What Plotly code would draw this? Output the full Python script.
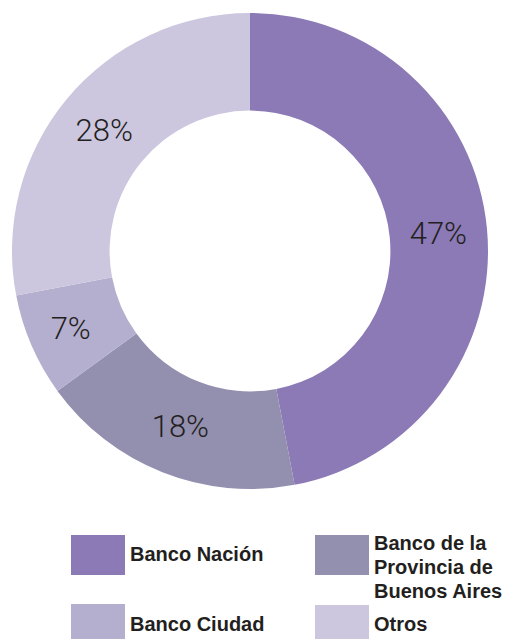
import plotly.graph_objects as go

# body margin is removed via post_script so the figure fills the page exactly
W, H = 505, 639

categories = ["Banco Nación", "Banco de la Provincia de Buenos Aires", "Banco Ciudad", "Otros"]
values = [47, 18, 7, 28]
colors = ["#8B7AB6", "#938FAF", "#B5AFCF", "#CCC6DE"]
legend_lines = [["Banco Nación"], ["Banco de la", "Provincia de", "Buenos Aires"], ["Banco Ciudad"], ["Otros"]]


def px_x(x):
    return x / W


def px_y(y):
    return 1 - y / H


fig = go.Figure(go.Pie(
    labels=categories,
    values=values,
    marker=dict(colors=colors, line=dict(width=0)),
    hole=0.59,
    sort=False,
    direction="clockwise",
    rotation=0,
    texttemplate="%{value}%",
    textposition="inside",
    insidetextorientation="horizontal",
    textfont=dict(family="Roboto", size=31, color="#231F20", weight=300),
    showlegend=False,
    domain=dict(x=[px_x(12), px_x(488)], y=[px_y(490), px_y(12)]),
))

# legend boxes
legend_pos = [(71, 535, 575), (315, 535, 575), (71, 604, 644), (315, 605, 645)]
text_centers = [[554], [543, 567, 591], [624], [624]]
for i, (x0, y0, y1) in enumerate(legend_pos):
    fig.add_shape(type="rect", xref="paper", yref="paper",
                  x0=px_x(x0), x1=px_x(x0 + 54), y0=px_y(y1), y1=px_y(y0),
                  fillcolor=colors[i], line=dict(width=0))
    for line, cy in zip(legend_lines[i], text_centers[i]):
        fig.add_annotation(xref="paper", yref="paper", x=px_x(x0 + 57), y=px_y(cy),
                           text=line, showarrow=False, xanchor="left", yanchor="middle",
                           font=dict(family="Liberation Sans", size=20, color="#231F20", weight="bold"))

fig.update_layout(
    width=W, height=H,
    margin=dict(l=0, r=0, t=0, b=0),
    paper_bgcolor="white",
    uniformtext=dict(minsize=31, mode="show"),
)

fig.write_html("out.html",
               config={"displayModeBar": False},
               post_script="document.body.style.margin='0';document.body.style.overflow='hidden';")
